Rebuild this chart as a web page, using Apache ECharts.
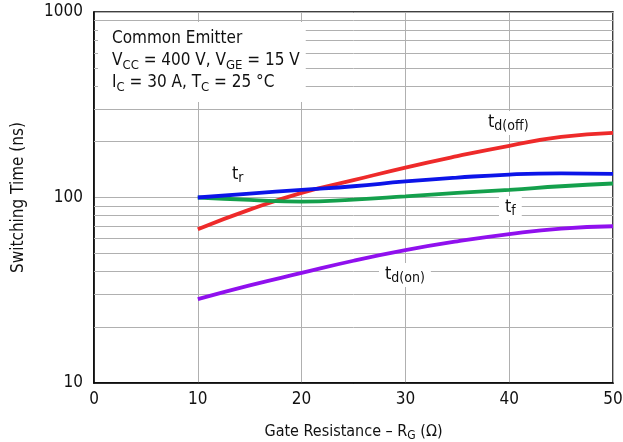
<!DOCTYPE html>
<html><head><meta charset="utf-8">
<script src="https://cdn.jsdelivr.net/npm/echarts@6/dist/echarts.min.js"></script>
<style>html,body{margin:0;padding:0;background:#fff}#c{width:623px;height:442px}</style>
</head><body><div id="c"></div>
<script>
const gateResistance = [10, 15, 20, 25, 30, 35, 40, 45, 50];
const tRise   = [100, 105, 110, 115, 122, 128, 133, 135, 134];
const tFall   = [100, 97, 95, 97.5, 101.5, 106, 110, 115, 119];
const tdOff   = [67.5, 86, 106, 124, 145, 167, 190, 212, 223];
const tdOn    = [28.3, 33.6, 39.2, 45.6, 52, 58, 63.5, 68, 70];
const xTicks  = [0, 10, 20, 30, 40, 50];
const yTicks  = [10, 100, 1000];
const minorGrid = [20,30,40,50,60,70,80,90,200,300,400,500,600,700,800,900];

const FONT = "'DejaVu Sans Condensed','Liberation Sans',sans-serif";
const FS = 17;
const pair = ys => gateResistance.map((x,i)=>[x, ys[i]]);
const chart = echarts.init(document.getElementById('c'), null, {renderer:'canvas'});
const lineSeries = (name, ys, color) => ({
  name, type:'line', data: pair(ys), smooth:true, symbol:'none', z:5,
  lineStyle:{color, width:3.8}, itemStyle:{color}
});
const mkRich = fs => ({
  s:{fontSize:Math.round(fs*0.78), fontFamily:FONT, color:'#111', lineHeight:6, verticalAlign:'bottom'}
});
const label = (txt, left, top) => ({
  type:'text', left, top, z:10,
  style:{text:txt, rich:mkRich(18), backgroundColor:'#fff', padding:[0,6,2,6],
    fontSize:18, fontFamily:FONT, fill:'#111', lineHeight:22}
});
chart.setOption({
  animation:false,
  grid:{left:94, right:10, top:12, bottom:59, outerBoundsMode:'none', containLabel:false,
    show:true, borderColor:'#000', borderWidth:1.5, backgroundColor:'#fff'},
  xAxis:{type:'value', min:xTicks[0], max:xTicks[xTicks.length-1], interval:10,
    name:'Gate Resistance – R{s|G} (Ω)', nameLocation:'middle', nameGap:39,
    nameTextStyle:{fontSize:16, fontFamily:FONT, color:'#111', lineHeight:20, rich:mkRich(16)},
    axisLine:{lineStyle:{color:'#000', width:1.5}}, axisTick:{show:false},
    axisLabel:{fontSize:FS, fontFamily:FONT, color:'#111', margin:8},
    splitLine:{show:true, lineStyle:{color:'#b0b0b0', width:1}}},
  yAxis:{type:'log', logBase:10, min:yTicks[0], max:yTicks[yTicks.length-1],
    name:'Switching Time (ns)', nameLocation:'middle', nameGap:67, nameRotate:90,
    nameTextStyle:{fontSize:FS, fontFamily:FONT, color:'#111'},
    axisLine:{lineStyle:{color:'#000', width:1.5}}, axisTick:{show:false},
    axisLabel:{fontSize:FS, fontFamily:FONT, color:'#111', margin:11, formatter:v=>String(v)},
    splitLine:{show:true, lineStyle:{color:'#b0b0b0', width:1}}},
  graphic:[
    {type:'text', left:98, top:22, z:10,
      style:{text:'Common Emitter\nV{s|CC} = 400 V, V{s|GE} = 15 V\nI{s|C} = 30 A, T{s|C} = 25 °C',
        rich:mkRich(FS), backgroundColor:'#fff', padding:[6,6,8,14],
        fontSize:FS, fontFamily:FONT, fill:'#111', lineHeight:22}},
    label('t{s|r}', 226, 163),
    label('t{s|d(off)}', 482, 111),
    label('t{s|f}', 499, 196),
    label('t{s|d(on)}', 379, 263)
  ],
  series:[
    {type:'line', data:[], z:1, silent:true,
      markLine:{silent:true, symbol:'none', label:{show:false}, animation:false,
        lineStyle:{color:'#b0b0b0', width:1, type:'solid'},
        data: minorGrid.map(v=>({yAxis:v}))}},
    lineSeries('td(off)', tdOff, '#ee2a2a'),
    lineSeries('tf', tFall, '#14a04c'),
    lineSeries('tr', tRise, '#0c14e8'),
    lineSeries('td(on)', tdOn, '#9010ee')
  ]
});
</script></body></html>
